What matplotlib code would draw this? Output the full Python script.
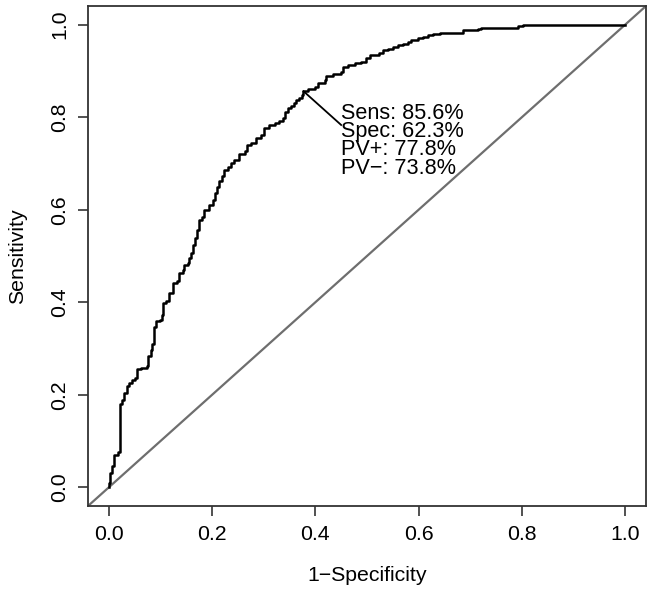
import matplotlib
matplotlib.use("Agg")
import matplotlib.pyplot as plt

plt.rcParams['font.family'] = ['Liberation Sans', 'DejaVu Sans']

# ROC curve vertices (1-specificity, sensitivity)
fpr = [0.000, 0.000, 0.003, 0.003, 0.007, 0.010, 0.019, 0.021, 0.026, 0.030,
       0.035, 0.040, 0.045, 0.050, 0.055, 0.063, 0.074, 0.077, 0.081, 0.083,
       0.087, 0.092, 0.100, 0.103, 0.105, 0.111, 0.117, 0.124, 0.132, 0.137,
       0.143, 0.146, 0.153, 0.156, 0.159, 0.163, 0.167, 0.171, 0.175, 0.180,
       0.185, 0.195, 0.201, 0.205, 0.210, 0.214, 0.219, 0.223, 0.230, 0.237,
       0.243, 0.253, 0.263, 0.268, 0.275, 0.285, 0.294, 0.301, 0.311, 0.321,
       0.330, 0.337, 0.341, 0.348, 0.353, 0.358, 0.363, 0.369, 0.374, 0.377,
       0.385, 0.399, 0.405, 0.418, 0.421, 0.434, 0.450, 0.453, 0.463, 0.476,
       0.489, 0.499, 0.505, 0.524, 0.531, 0.541, 0.550, 0.560, 0.570, 0.579,
       0.586, 0.599, 0.608, 0.618, 0.628, 0.641, 0.676, 0.686, 0.715, 0.721,
       0.783, 0.792, 0.802, 1.000]
tpr = [0.000, 0.010, 0.010, 0.032, 0.046, 0.071, 0.076, 0.181, 0.190, 0.204,
       0.219, 0.226, 0.233, 0.237, 0.255, 0.258, 0.263, 0.283, 0.298, 0.309,
       0.347, 0.359, 0.362, 0.373, 0.398, 0.402, 0.420, 0.442, 0.447, 0.463,
       0.470, 0.481, 0.485, 0.496, 0.506, 0.524, 0.539, 0.557, 0.578, 0.585,
       0.600, 0.611, 0.621, 0.636, 0.650, 0.661, 0.672, 0.686, 0.693, 0.700,
       0.708, 0.721, 0.726, 0.740, 0.745, 0.754, 0.762, 0.776, 0.783, 0.788,
       0.792, 0.798, 0.812, 0.819, 0.823, 0.830, 0.837, 0.841, 0.848, 0.856,
       0.860, 0.864, 0.874, 0.880, 0.889, 0.893, 0.898, 0.909, 0.913, 0.916,
       0.919, 0.927, 0.934, 0.938, 0.945, 0.948, 0.952, 0.956, 0.959, 0.963,
       0.967, 0.970, 0.974, 0.977, 0.979, 0.981, 0.981, 0.988, 0.990, 0.993,
       0.993, 0.997, 1.000, 1.000]

opt_point = (0.377, 0.856)
label_lines = ["Sens: 85.6%", "Spec: 62.3%", "PV+: 77.8%", "PV\u2212: 73.8%"]
ticks = [0.0, 0.2, 0.4, 0.6, 0.8, 1.0]
tick_labels = ["0.0", "0.2", "0.4", "0.6", "0.8", "1.0"]

fig = plt.figure(figsize=(6.54, 5.91), dpi=100)
ax = fig.add_axes([88/654, 1-506/591, (646-88)/654, (506-6)/591])
ax.set_xlim(-0.04, 1.04)
ax.set_ylim(-0.04, 1.04)

# diagonal reference line
ax.plot([-0.04, 1.04], [-0.04, 1.04], color='#6e6e6e', lw=1.6, zorder=2)
# ROC curve
ax.plot(fpr, tpr, color='black', lw=1.8, drawstyle='steps-post', zorder=3)

# annotation of optimal point
ax.plot([opt_point[0], 0.450], [opt_point[1], 0.783], color='black', lw=1.3, zorder=3)
ax.text(0.449, 0.831, "\n".join(label_lines), fontsize=15.6, ha='left', va='top',
        linespacing=0.835, color='black')

ax.set_xticks(ticks)
ax.set_xticklabels(tick_labels)
ax.set_yticks(ticks)
ax.set_yticklabels(tick_labels, rotation=90, va='center')
ax.tick_params(axis='both', direction='out', length=7.5, width=1.2, colors='#333333',
               labelsize=15.3, labelcolor='black', pad=6)
for sp in ax.spines.values():
    sp.set_color('#333333')
    sp.set_linewidth(1.3)

ax.set_xlabel("1\u2212Specificity", fontsize=15.3, labelpad=16)
ax.set_ylabel("Sensitivity", fontsize=15.3, labelpad=17)

fig.savefig("out.png", dpi=100)
